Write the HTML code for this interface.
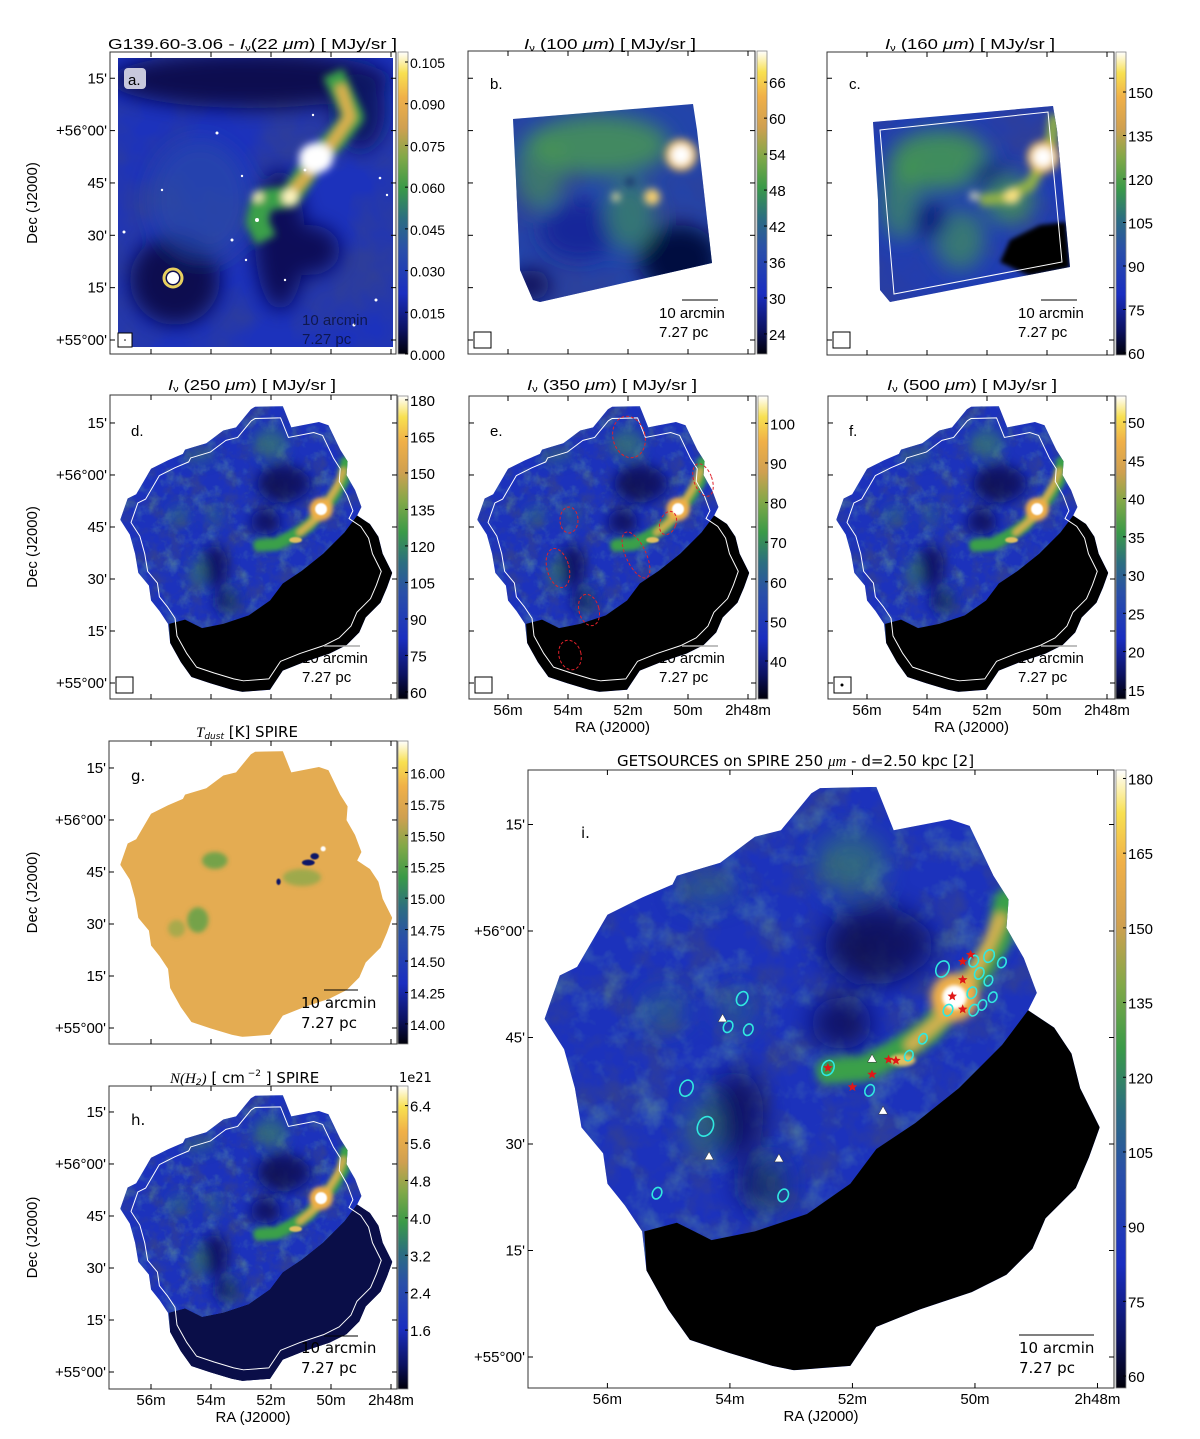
<!DOCTYPE html>
<html><head><meta charset="utf-8">
<style>
html,body{margin:0;padding:0;background:#fff;}
svg{display:block;}
text{font-family:"Liberation Sans","DejaVu Sans",sans-serif;fill:#000;}
.t{font-size:15px;}
.d{font-family:"DejaVu Sans","Liberation Sans",sans-serif;}
</style></head>
<body>
<svg id="fig" width="1200" height="1439" viewBox="0 0 1200 1439" xmlns="http://www.w3.org/2000/svg">
<defs>
  <linearGradient id="cmap" x1="0" y1="1" x2="0" y2="0">
    <stop offset="0" stop-color="#00000a"/>
    <stop offset="0.08" stop-color="#0c1260"/>
    <stop offset="0.2" stop-color="#1a2ec0"/>
    <stop offset="0.35" stop-color="#2a50a8"/>
    <stop offset="0.45" stop-color="#2c6e80"/>
    <stop offset="0.55" stop-color="#3a9a48"/>
    <stop offset="0.65" stop-color="#80a848"/>
    <stop offset="0.75" stop-color="#d0a050"/>
    <stop offset="0.85" stop-color="#f0b048"/>
    <stop offset="0.93" stop-color="#f8e050"/>
    <stop offset="1" stop-color="#ffffff"/>
  </linearGradient>
  <filter id="b30" x="-50%" y="-50%" width="200%" height="200%"><feGaussianBlur stdDeviation="30"/></filter>
  <filter id="b20" x="-50%" y="-50%" width="200%" height="200%"><feGaussianBlur stdDeviation="20"/></filter>
  <filter id="b10" x="-50%" y="-50%" width="200%" height="200%"><feGaussianBlur stdDeviation="10"/></filter>
  <filter id="b4" x="-50%" y="-50%" width="200%" height="200%"><feGaussianBlur stdDeviation="4"/></filter>
  <filter id="b2" x="-50%" y="-50%" width="200%" height="200%"><feGaussianBlur stdDeviation="2"/></filter>
  <filter id="tex" x="0" y="0" width="100%" height="100%">
    <feTurbulence type="fractalNoise" baseFrequency="0.012" numOctaves="4" seed="3"/>
    <feColorMatrix type="matrix" values="0 0 0 0 0.03  0 0 0 0 0.05  0 0 0 0 0.3  2.2 0 0 0 -0.95"/>
  </filter>
  <filter id="texG" x="0" y="0" width="100%" height="100%">
    <feTurbulence type="fractalNoise" baseFrequency="0.015" numOctaves="4" seed="8"/>
    <feColorMatrix type="matrix" values="0 0 0 0 0.2  0 0 0 0 0.6  0 0 0 0 0.3  0 2.2 0 0 -1.05"/>
  </filter>
  <path id="foot" d="M830,88 L960,85 L1000,185 L1130,160 L1175,175 L1230,290 L1265,345 L1260,410 L1300,480 L1330,560 L1310,600 L1370,640 L1410,700 L1430,780 L1475,870 L1450,940 L1420,1010 L1350,1080 L1320,1150 L1260,1210 L1180,1250 L1060,1290 L960,1330 L900,1420 L770,1430 L720,1420 L620,1390 L530,1360 L480,1290 L430,1200 L420,1110 L380,1050 L340,1000 L330,930 L280,870 L265,780 L240,690 L195,620 L230,520 L270,500 L340,380 L420,340 L490,310 L500,290 L600,260 L680,200 L740,185 L810,100 Z"/>
  <clipPath id="footClip"><use href="#foot"/></clipPath>
  <path id="blackReg" d="M1310,600 L1370,640 L1410,700 L1430,780 L1475,870 L1450,940 L1420,1010 L1350,1080 L1320,1150 L1260,1210 L1180,1250 L1060,1290 L960,1330 L900,1420 L770,1430 L720,1420 L620,1390 L530,1360 L480,1290 L430,1200 L425,1110 L500,1090 L580,1130 L680,1110 L800,1070 L900,1000 L960,920 L1050,860 L1150,780 L1250,680 Z"/>
  <g id="cloud">
    <g clip-path="url(#footClip)">
      <rect x="0" y="0" width="1600" height="1600" fill="#1c32bc"/>
      <rect x="0" y="0" width="1600" height="1600" filter="url(#tex)"/>
      <rect x="0" y="0" width="1600" height="1600" filter="url(#texG)" opacity="0.35"/>
      <g filter="url(#b30)" opacity="0.85">
        <ellipse cx="960" cy="450" rx="120" ry="90" fill="#080d50"/>
        <ellipse cx="880" cy="630" rx="70" ry="60" fill="#0a1058"/>
        <ellipse cx="640" cy="840" rx="60" ry="100" fill="#0a1058"/>
        <ellipse cx="700" cy="1000" rx="60" ry="60" fill="#0a1058"/>
        <ellipse cx="1030" cy="450" rx="60" ry="60" fill="#0a1058"/>
        <ellipse cx="900" cy="260" rx="80" ry="70" fill="#3a7e6a" opacity="0.8"/>
        <ellipse cx="570" cy="320" rx="70" ry="35" fill="#2f6a80" opacity="0.8"/>
        <ellipse cx="470" cy="600" rx="50" ry="45" fill="#2f6a80" opacity="0.8"/>
        <ellipse cx="560" cy="870" rx="35" ry="70" fill="#3a7e6a" opacity="0.8"/>
        <ellipse cx="640" cy="600" rx="40" ry="50" fill="#2f6a80" opacity="0.7"/>
        <ellipse cx="720" cy="1000" rx="25" ry="70" fill="#2f6a80" opacity="0.6"/>
      </g>
      <use href="#blackReg" fill="#000"/>
      <g filter="url(#b10)">
        <polyline points="1260,350 1240,440 1190,520 1140,580 1080,650 1000,700 930,735 850,740" fill="none" stroke="#3aa048" stroke-width="60" stroke-linecap="round"/>
        <polyline points="1245,390 1210,470 1160,550 1110,620 1040,680" fill="none" stroke="#d0b050" stroke-width="30" stroke-linecap="round"/>
        <circle cx="1140" cy="570" r="55" fill="#f0b048"/>
      </g>
      <g filter="url(#b4)">
        <circle cx="1140" cy="570" r="28" fill="#ffffff"/>
        <ellipse cx="1020" cy="715" rx="30" ry="14" fill="#e0c060"/>
      </g>
    </g>
  </g>
  <g id="cloudT">
    <g clip-path="url(#footClip)">
      <rect x="0" y="0" width="1600" height="1600" fill="#e4ac52"/>
      <g filter="url(#b10)">
        <ellipse cx="640" cy="600" rx="60" ry="40" fill="#58a048" opacity="0.8"/>
        <ellipse cx="560" cy="880" rx="50" ry="60" fill="#58a048" opacity="0.8"/>
        <ellipse cx="1050" cy="680" rx="90" ry="40" fill="#80a848" opacity="0.7"/>
        <ellipse cx="460" cy="920" rx="40" ry="40" fill="#80a848" opacity="0.6"/>
      </g>
      <g filter="url(#b2)">
        <ellipse cx="1110" cy="580" rx="20" ry="15" fill="#0a1468"/>
        <ellipse cx="1080" cy="610" rx="30" ry="14" fill="#0a1468"/>
        <ellipse cx="940" cy="700" rx="10" ry="15" fill="#0a1468"/>
        <circle cx="1150" cy="545" r="12" fill="#ffffff"/>
      </g>
    </g>
  </g>
  <use id="pacs" href="#foot" transform="translate(830,780) scale(0.92) translate(-830,-780)" fill="none" stroke="#fff" stroke-width="5" stroke-linejoin="round"/>
</defs>
<rect width="1200" height="1439" fill="#fff"/>

<!-- ===== Panel a ===== -->
<g>
  <clipPath id="clipA"><rect x="118" y="58" width="275" height="289"/></clipPath>
  <g clip-path="url(#clipA)">
    <rect x="118" y="58" width="275" height="289" fill="#1c32bc"/>
    <rect x="118" y="58" width="275" height="289" filter="url(#tex)"/>
    <g filter="url(#b10)">
      <ellipse cx="250" cy="80" rx="140" ry="28" fill="#080d50"/>
      <ellipse cx="280" cy="240" rx="25" ry="70" fill="#0a1058"/>
      <ellipse cx="175" cy="280" rx="45" ry="45" fill="#080d50"/>
      <ellipse cx="310" cy="250" rx="30" ry="25" fill="#0a1058"/>
      <ellipse cx="360" cy="110" rx="25" ry="40" fill="#0c1464"/>
      <ellipse cx="200" cy="200" rx="50" ry="60" fill="#2a48a8" opacity="0.7"/>
    </g>
    <g filter="url(#b4)">
      <polyline points="333,73 353,117 335,140 317,157 290,197 262,200 257,222 266,240" fill="none" stroke="#3aa048" stroke-width="22" stroke-linejoin="round"/>
      <polyline points="340,85 350,117 320,160 290,195" fill="none" stroke="#e0b050" stroke-width="10"/>
      <ellipse cx="316" cy="158" rx="17" ry="15" fill="#ffffff"/>
      <circle cx="290" cy="197" r="8" fill="#fff4c0"/>
      <circle cx="258" cy="197" r="5" fill="#fff4c0"/>
    </g>
    <circle cx="173" cy="278" r="6" fill="#fff"/>
    <circle cx="173" cy="278" r="9" fill="none" stroke="#e8d060" stroke-width="3"/>
    <g fill="#fff">
      <circle cx="217" cy="133" r="1.5"/><circle cx="242" cy="176" r="1.2"/><circle cx="257" cy="220" r="2"/><circle cx="232" cy="240" r="1.5"/><circle cx="246" cy="260" r="1.2"/><circle cx="380" cy="178" r="1.3"/><circle cx="387" cy="195" r="1.2"/><circle cx="376" cy="300" r="1.5"/><circle cx="124" cy="232" r="1.5"/><circle cx="162" cy="190" r="1.2"/><circle cx="285" cy="280" r="1.2"/><circle cx="354" cy="325" r="1.5"/><circle cx="313" cy="115" r="1.2"/><circle cx="305" cy="170" r="1.4"/>
    </g>
  </g>
  <rect x="110" y="52" width="286" height="302" fill="none" stroke="#333" stroke-width="1"/>
  <rect x="124" y="68" width="22" height="21" rx="4" fill="#c8c8dc"/>
  <text x="128" y="85" class="t">a.</text>
  <text x="302" y="325" class="t" fill="#000" opacity="0.55">10 arcmin</text>
  <text x="302" y="344" class="t" opacity="0.55">7.27 pc</text>
  <rect x="118" y="333" width="14" height="14" fill="#fff" stroke="#000"/>
  <circle cx="125" cy="340" r="0.8" fill="#000"/>
  <text x="108" y="49" font-size="15" textLength="289" lengthAdjust="spacingAndGlyphs">G139.60-3.06 - <tspan font-style="italic">I</tspan><tspan font-size="9" dy="2">ν</tspan><tspan dy="-2">(22 </tspan><tspan font-style="italic">μm</tspan>)  [ MJy/sr ]</text>
</g>

<!-- ===== Panel b ===== -->
<g>
  <rect x="468" y="51" width="287" height="303" fill="#fff" stroke="#333"/>
  <clipPath id="clipB"><polygon points="513,119 693,104 697,130 712,263 540,302 533,300 520,270 516,180"/></clipPath>
  <g clip-path="url(#clipB)">
    <rect x="500" y="95" width="220" height="215" fill="#2244aa"/>
    <rect x="500" y="95" width="220" height="215" filter="url(#tex)"/>
    <g filter="url(#b10)">
      <ellipse cx="600" cy="145" rx="70" ry="30" fill="#4a9a50" opacity="0.8"/>
      <ellipse cx="540" cy="170" rx="25" ry="40" fill="#4a9a50" opacity="0.6"/>
      <ellipse cx="680" cy="260" rx="40" ry="35" fill="#060a40"/>
      <ellipse cx="580" cy="230" rx="40" ry="30" fill="#18289a"/>
      <ellipse cx="630" cy="215" rx="25" ry="35" fill="#3a8a60" opacity="0.7"/>
      <ellipse cx="530" cy="285" rx="20" ry="15" fill="#0a1058"/>
    </g>
    <g filter="url(#b4)">
      <circle cx="681" cy="155" r="16" fill="#f0c050"/>
      <circle cx="681" cy="155" r="10" fill="#fff"/>
      <circle cx="652" cy="197" r="8" fill="#f8d070"/>
      <circle cx="616" cy="197" r="4" fill="#fff0a0"/>
      <circle cx="630" cy="182" r="3" fill="#101050"/>
    </g>
  </g>
  <text x="490" y="89" class="t">b.</text>
  <line x1="682" y1="300" x2="718" y2="300" stroke="#000"/>
  <text x="659" y="318" class="t">10 arcmin</text>
  <text x="659" y="337" class="t">7.27 pc</text>
  <rect x="474" y="332" width="17" height="16" fill="#fff" stroke="#000"/>
  <text x="524" y="49" font-size="15" textLength="172" lengthAdjust="spacingAndGlyphs"><tspan font-style="italic">I</tspan><tspan font-size="9" dy="2">ν</tspan><tspan dy="-2"> (100 </tspan><tspan font-style="italic">μm</tspan>) [ MJy/sr ]</text>
</g>

<!-- ===== Panel c ===== -->
<g>
  <rect x="827" y="52" width="287" height="303" fill="#fff" stroke="#333"/>
  <clipPath id="clipC"><polygon points="873,122 1053,106 1057,130 1070,267 890,302 880,290 878,200"/></clipPath>
  <g clip-path="url(#clipC)">
    <rect x="860" y="95" width="220" height="215" fill="#1f3cb4"/>
    <rect x="860" y="95" width="220" height="215" filter="url(#tex)"/>
    <g filter="url(#b10)">
      <ellipse cx="940" cy="160" rx="50" ry="30" fill="#48a048" opacity="0.8"/>
      <ellipse cx="900" cy="200" rx="20" ry="40" fill="#48a048" opacity="0.6"/>
      <ellipse cx="960" cy="240" rx="25" ry="30" fill="#48a048" opacity="0.6"/>
      <ellipse cx="930" cy="220" rx="20" ry="20" fill="#101a80"/>
      <ellipse cx="990" cy="175" rx="20" ry="15" fill="#101a80"/>
      <ellipse cx="1010" cy="200" rx="25" ry="25" fill="#48a048" opacity="0.7"/>
    </g>
    <polygon points="1000,262 1010,240 1040,225 1066,222 1070,268 1030,276" fill="#000" filter="url(#b2)"/>
    <g filter="url(#b4)">
      <polyline points="1055,115 1050,150 1030,185 1005,198 980,200" fill="none" stroke="#90b048" stroke-width="12"/>
      <circle cx="1043" cy="157" r="16" fill="#f0c050"/>
      <circle cx="1043" cy="157" r="10" fill="#fff"/>
      <circle cx="1012" cy="196" r="8" fill="#f8e080"/>
      <circle cx="974" cy="196" r="4" fill="#fff8c0"/>
    </g>
  </g>
  <polygon points="880,130 1048,112 1062,262 894,294" fill="none" stroke="#fff" stroke-width="1"/>
  <text x="849" y="89" class="t">c.</text>
  <line x1="1041" y1="300" x2="1077" y2="300" stroke="#000"/>
  <text x="1018" y="318" class="t">10 arcmin</text>
  <text x="1018" y="337" class="t">7.27 pc</text>
  <rect x="833" y="332" width="17" height="16" fill="#fff" stroke="#000"/>
  <text x="885" y="49" font-size="15" textLength="170" lengthAdjust="spacingAndGlyphs"><tspan font-style="italic">I</tspan><tspan font-size="9" dy="2">ν</tspan><tspan dy="-2"> (160 </tspan><tspan font-style="italic">μm</tspan>) [ MJy/sr ]</text>
</g>

<!-- ===== Row 2: d e f ===== -->
<g>
  <rect x="110" y="395" width="287" height="304" fill="#fff" stroke="#333"/>
  <use href="#cloud" transform="translate(78.8,388) scale(0.2125)"/>
  <use href="#pacs" transform="translate(78.8,388) scale(0.2125)"/>
  <text x="131" y="436" class="t">d.</text>
  <line x1="324" y1="646" x2="360" y2="646" stroke="#aaa" stroke-width="1.5"/>
  <text x="302" y="663" class="t">10 arcmin</text>
  <text x="302" y="682" class="t">7.27 pc</text>
  <rect x="116" y="677" width="17" height="16" fill="#fff" stroke="#000"/>
  <text x="168" y="390" font-size="15" textLength="168" lengthAdjust="spacingAndGlyphs"><tspan font-style="italic">I</tspan><tspan font-size="9" dy="2">ν</tspan><tspan dy="-2"> (250 </tspan><tspan font-style="italic">μm</tspan>) [ MJy/sr ]</text>
</g>
<g>
  <rect x="469" y="396" width="287" height="303" fill="#fff" stroke="#333"/>
  <use href="#cloud" transform="translate(435.8,388) scale(0.2125)"/>
  <use href="#pacs" transform="translate(435.8,388) scale(0.2125)"/>
  <g fill="none" stroke="#e0202a" stroke-width="1" stroke-dasharray="3,2">
    <ellipse cx="629" cy="437" rx="16" ry="21" transform="rotate(-15 629 437)"/>
    <ellipse cx="703" cy="480" rx="9" ry="17" transform="rotate(-20 703 480)"/>
    <ellipse cx="569" cy="520" rx="9" ry="13"/>
    <ellipse cx="668" cy="523" rx="8" ry="12" transform="rotate(20 668 523)"/>
    <ellipse cx="636" cy="555" rx="10" ry="25" transform="rotate(-25 636 555)"/>
    <ellipse cx="558" cy="568" rx="11" ry="20" transform="rotate(-15 558 568)"/>
    <ellipse cx="589" cy="610" rx="10" ry="16" transform="rotate(-15 589 610)"/>
    <ellipse cx="570" cy="655" rx="11" ry="15" transform="rotate(-15 570 655)"/>
  </g>
  <text x="490" y="436" class="t">e.</text>
  <line x1="682" y1="646" x2="718" y2="646" stroke="#aaa" stroke-width="1.5"/>
  <text x="659" y="663" class="t">10 arcmin</text>
  <text x="659" y="682" class="t">7.27 pc</text>
  <rect x="475" y="677" width="17" height="16" fill="#fff" stroke="#000"/>
  <text x="527" y="390" font-size="15" textLength="170" lengthAdjust="spacingAndGlyphs"><tspan font-style="italic">I</tspan><tspan font-size="9" dy="2">ν</tspan><tspan dy="-2"> (350 </tspan><tspan font-style="italic">μm</tspan>) [ MJy/sr ]</text>
</g>
<g>
  <rect x="828" y="396" width="287" height="303" fill="#fff" stroke="#333"/>
  <use href="#cloud" transform="translate(794.8,388) scale(0.2125)"/>
  <use href="#pacs" transform="translate(794.8,388) scale(0.2125)"/>
  <text x="849" y="436" class="t">f.</text>
  <line x1="1041" y1="646" x2="1077" y2="646" stroke="#aaa" stroke-width="1.5"/>
  <text x="1018" y="663" class="t">10 arcmin</text>
  <text x="1018" y="682" class="t">7.27 pc</text>
  <rect x="834" y="677" width="17" height="16" fill="#fff" stroke="#000"/>
  <circle cx="842" cy="685" r="1.5" fill="#000"/>
  <text x="887" y="390" font-size="15" textLength="170" lengthAdjust="spacingAndGlyphs"><tspan font-style="italic">I</tspan><tspan font-size="9" dy="2">ν</tspan><tspan dy="-2"> (500 </tspan><tspan font-style="italic">μm</tspan>) [ MJy/sr ]</text>
</g>

<!-- ===== g ===== -->
<g>
  <rect x="109" y="741" width="288" height="303" fill="#fff" stroke="#333"/>
  <use href="#cloudT" transform="translate(78.8,733) scale(0.2125)"/>
  <text x="131" y="781" class="t d">g.</text>
  <line x1="324" y1="990" x2="358" y2="990" stroke="#000"/>
  <text x="301" y="1008" class="t d">10 arcmin</text>
  <text x="301" y="1028" class="t d">7.27 pc</text>
  <text x="196" y="737" font-size="15" class="d"><tspan font-style="italic" font-family="Liberation Serif">T</tspan><tspan font-size="9" dy="2" font-style="italic">dust</tspan><tspan dy="-2"> [K] SPIRE</tspan></text>
</g>

<!-- ===== h ===== -->
<g>
  <rect x="109" y="1086" width="288" height="303" fill="#fff" stroke="#333"/>
  <use href="#cloud" transform="translate(78.8,1077) scale(0.2125)"/>
  <use href="#blackReg" transform="translate(78.8,1077) scale(0.2125)" fill="#0a0e48"/>
  <use href="#pacs" transform="translate(78.8,1077) scale(0.2125)"/>
  <text x="131" y="1125" class="t d">h.</text>
  <line x1="324" y1="1336" x2="358" y2="1336" stroke="#000"/>
  <text x="301" y="1353" class="t d">10 arcmin</text>
  <text x="301" y="1373" class="t d">7.27 pc</text>
  <text x="170" y="1083" font-size="15" class="d"><tspan font-style="italic" font-family="Liberation Serif">N(H</tspan><tspan font-size="9" dy="2" font-style="italic">2</tspan><tspan dy="-2" font-style="italic" font-family="Liberation Serif">)</tspan> [ cm<tspan font-size="9" dy="-7"> −2</tspan><tspan dy="7"> ] SPIRE</tspan></text>
  <text x="399" y="1082" font-size="13" class="d">1e21</text>
</g>

<!-- ===== i ===== -->
<g>
  <rect x="528" y="770" width="586" height="618" fill="#fff" stroke="#333"/>
  <use href="#cloud" transform="translate(460,750) scale(0.4337)"/>
  <g id="srcLayer"></g>
  <text x="581" y="838" class="t d">i.</text>
  <line x1="1019" y1="1335" x2="1094" y2="1335" stroke="#000"/>
  <text x="1019" y="1353" class="t d">10 arcmin</text>
  <text x="1019" y="1373" class="t d">7.27 pc</text>
  <text x="617" y="766" font-size="15" class="d">GETSOURCES on SPIRE 250 <tspan font-style="italic" font-family="Liberation Serif">μm</tspan>  -  d=2.50 kpc [2]</text>
</g>

<g id="axisLayer"></g>
</svg>
<script>
// ---- data ----
var decTickVals = [75, 60, 45, 30, 15, 0];
var decTickLabels = ["15'", "+56°00'", "45'", "30'", "15'", "+55°00'"];
var raTickVals = [56, 54, 52, 50, 48];
var raTickLabels = ["56m", "54m", "52m", "50m", "2h48m"];

var cbarTicksA = [0.000, 0.015, 0.030, 0.045, 0.060, 0.075, 0.090, 0.105];
var cbarTicksB = [24, 30, 36, 42, 48, 54, 60, 66];
var cbarTicksC = [60, 75, 90, 105, 120, 135, 150];
var cbarTicksD = [60, 75, 90, 105, 120, 135, 150, 165, 180];
var cbarTicksE = [40, 50, 60, 70, 80, 90, 100];
var cbarTicksF = [15, 20, 25, 30, 35, 40, 45, 50];
var cbarTicksG = [14.00, 14.25, 14.50, 14.75, 15.00, 15.25, 15.50, 15.75, 16.00];
var cbarTicksH = [1.6, 2.4, 3.2, 4.0, 4.8, 5.6, 6.4];
var cbarTicksI = [60, 75, 90, 105, 120, 135, 150, 165, 180];
var cbarRangeA = [0.0, 0.1086];
var cbarRangeB = [20.65, 71.2];
var cbarRangeC = [59.3, 163.8];
var cbarRangeD = [57.1, 181.6];
var cbarRangeE = [30.4, 106.9];
var cbarRangeF = [13.8, 53.4];
var cbarRangeG = [13.84, 16.25];
var cbarRangeH = [0.34, 6.82];
var cbarRangeI = [57.6, 181.7];

// sources on panel i: RA (minutes of 2h), Dec (arcmin above +55°)
var starRA  = [50.20, 50.07, 50.20, 50.37, 50.20, 52.40, 51.68, 52.00, 51.29, 51.41];
var starDec = [55.69, 56.66, 53.13, 50.80, 48.97, 40.72, 39.80, 38.03, 41.76, 41.89];
var triRA  = [54.12, 51.68, 51.50, 54.34, 53.20];
var triDec = [47.62, 41.94, 34.62, 28.20, 27.90];
var ellRA  = [53.80, 54.03, 53.70, 52.40, 54.71, 54.40, 55.19, 53.13, 51.72, 50.53, 50.02, 49.93, 49.77, 49.56, 49.78, 49.71, 49.88, 50.02, 50.44, 50.05, 50.85, 51.08];
var ellDec = [50.49, 46.52, 46.10, 40.72, 37.86, 32.48, 23.07, 22.76, 37.55, 54.65, 55.75, 54.04, 56.48, 55.56, 53.00, 50.68, 49.58, 48.85, 48.85, 51.30, 44.82, 42.44];
var ellSize = [1.2, 1.0, 1.0, 1.3, 1.4, 1.7, 1.0, 1.1, 1.0, 1.4, 1.0, 1.0, 1.1, 0.9, 0.9, 0.9, 0.9, 1.0, 1.0, 1.0, 0.9, 0.9];

var NS = "http://www.w3.org/2000/svg";
var axisLayer = document.getElementById('axisLayer');
var srcLayer = document.getElementById('srcLayer');
function mk(tag, attrs, parent) {
  var e = document.createElementNS(NS, tag);
  for (var k in attrs) e.setAttribute(k, attrs[k]);
  parent.appendChild(e);
  return e;
}

var panels = [
  {id:'a', x:110, y:52, w:286, h:302, x56:151, dx:30, y0:340, dy:3.49, decLab:true, raLab:false, font:'Liberation Sans'},
  {id:'b', x:468, y:51, w:287, h:303, x56:508, dx:30, y0:340, dy:3.49, decLab:false, raLab:false},
  {id:'c', x:827, y:52, w:287, h:303, x56:867, dx:30, y0:340, dy:3.49, decLab:false, raLab:false},
  {id:'d', x:110, y:395, w:287, h:304, x56:151, dx:30, y0:683, dy:3.467, decLab:true, raLab:false, font:'Liberation Sans'},
  {id:'e', x:469, y:396, w:287, h:303, x56:508, dx:30, y0:683, dy:3.467, decLab:false, raLab:true, font:'Liberation Sans'},
  {id:'f', x:828, y:396, w:287, h:303, x56:867, dx:30, y0:683, dy:3.467, decLab:false, raLab:true, font:'Liberation Sans'},
  {id:'g', x:109, y:741, w:288, h:303, x56:151, dx:30, y0:1028, dy:3.467, decLab:true, raLab:false, font:'DejaVu Sans'},
  {id:'h', x:109, y:1086, w:288, h:303, x56:151, dx:30, y0:1372, dy:3.467, decLab:true, raLab:true, font:'DejaVu Sans'},
  {id:'i', x:528, y:770, w:586, h:618, x56:607.4, dx:61.26, y0:1357, dy:7.1, decLab:true, raLab:true, font:'DejaVu Sans'}
];
function xPix(p, ra) { return p.x56 + (56 - ra) * p.dx; }
function yPix(p, dec) { return p.y0 - dec * p.dy; }

panels.forEach(function(p) {
  var g = mk('g', {}, axisLayer);
  
  
  decTickVals.forEach(function(v, i) {
    var y = yPix(p, v);
    if (y < p.y || y > p.y + p.h) return;
    mk('line', {x1:p.x, x2:p.x + 5, y1:y, y2:y, stroke:'#000'}, g);
    mk('line', {x1:p.x + p.w - 5, x2:p.x + p.w, y1:y, y2:y, stroke:'#000'}, g);
    if (p.decLab) {
      var t = mk('text', {x:p.x - 3, y:y + 5, 'text-anchor':'end', 'font-size':15, 'font-family':p.font}, g);
      
      
      t.textContent = decTickLabels[i];
    }
  });
  raTickVals.forEach(function(v, i) {
    var x = xPix(p, v);
    if (x < p.x || x > p.x + p.w + 1) return;
    mk('line', {x1:x, x2:x, y1:p.y + p.h - 5, y2:p.y + p.h, stroke:'#000'}, g);
    mk('line', {x1:x, x2:x, y1:p.y, y2:p.y + 5, stroke:'#000'}, g);
    if (p.raLab) {
      var t = mk('text', {x:x, y:p.y + p.h + 16, 'text-anchor':'middle', 'font-size':15, 'font-family':p.font}, g);
      
      
      t.textContent = raTickLabels[i];
    }
  });
  if (p.raLab) {
    var t = mk('text', {x:p.x + p.w / 2, y:p.y + p.h + 33, 'text-anchor':'middle', 'font-size':15, 'font-family':p.font}, g);
    
    
    t.textContent = 'RA (J2000)';
  }
  if (p.decLab && p.id !== 'i') {
    var cy = p.y + p.h / 2;
    var t = mk('text', {x:37, y:cy, 'text-anchor':'middle', 'font-size':15, 'font-family':p.font, transform:'rotate(-90 37 ' + cy + ')'}, g);
    
    
    t.textContent = 'Dec (J2000)';
  }
});

var cbars = [
  {id:'a', x:398, top:52, bot:354, ticks:cbarTicksA, range:cbarRangeA, dec:3, font:'Liberation Sans'},
  {id:'b', x:757, top:51, bot:354, ticks:cbarTicksB, range:cbarRangeB, dec:0, font:'Liberation Sans'},
  {id:'c', x:1116, top:52, bot:355, ticks:cbarTicksC, range:cbarRangeC, dec:0, font:'Liberation Sans'},
  {id:'d', x:398, top:396, bot:699, ticks:cbarTicksD, range:cbarRangeD, dec:0, font:'Liberation Sans'},
  {id:'e', x:758, top:396, bot:699, ticks:cbarTicksE, range:cbarRangeE, dec:0, font:'Liberation Sans'},
  {id:'f', x:1116, top:396, bot:699, ticks:cbarTicksF, range:cbarRangeF, dec:0, font:'Liberation Sans'},
  {id:'g', x:398, top:741, bot:1044, ticks:cbarTicksG, range:cbarRangeG, dec:2, font:'DejaVu Sans'},
  {id:'h', x:398, top:1086, bot:1389, ticks:cbarTicksH, range:cbarRangeH, dec:1, font:'DejaVu Sans'},
  {id:'i', x:1116, top:770, bot:1388, ticks:cbarTicksI, range:cbarRangeI, dec:0, font:'DejaVu Sans'}
];
cbars.forEach(function(c) {
  var g = mk('g', {}, axisLayer);
  
  
  var r = mk('rect', {x:c.x, y:c.top, width:10, height:c.bot - c.top, fill:'url(#cmap)', stroke:'#888', 'stroke-width':0.8}, g);
  
  
  c.ticks.forEach(function(v) {
    var y = c.bot - (v - c.range[0]) / (c.range[1] - c.range[0]) * (c.bot - c.top);
    mk('line', {x1:c.x + 7, x2:c.x + 10, y1:y, y2:y, stroke:'#000'}, g);
    var t = mk('text', {x:c.x + 12, y:y + 6, 'font-size':(c.dec >= 2 ? 14 : 15), 'font-family':c.font}, g);
    
    
    t.textContent = v.toFixed(c.dec);
  });
});

var pI = panels[8];
ellRA.forEach(function(ra, i) {
  var e = mk('ellipse', {cx:xPix(pI, ra), cy:yPix(pI, ellDec[i]), rx:4.5 * ellSize[i], ry:6 * ellSize[i], fill:'none', stroke:'#30e8e0', 'stroke-width':1.6, transform:'rotate(25 ' + xPix(pI, ra) + ' ' + yPix(pI, ellDec[i]) + ')'}, srcLayer);
  
  
});
triRA.forEach(function(ra, i) {
  var x = xPix(pI, ra), y = yPix(pI, triDec[i]);
  var t = mk('polygon', {points:(x) + ',' + (y - 5) + ' ' + (x - 4.5) + ',' + (y + 3) + ' ' + (x + 4.5) + ',' + (y + 3), fill:'#fff', stroke:'#333', 'stroke-width':0.5}, srcLayer);
  
  
});
starRA.forEach(function(ra, i) {
  var x = xPix(pI, ra), y = yPix(pI, starDec[i]);
  var pts = [];
  for (var k = 0; k < 10; k++) {
    var a = -Math.PI / 2 + k * Math.PI / 5, rr = (k % 2 === 0) ? 5 : 2.2;
    pts.push((x + rr * Math.cos(a)).toFixed(1) + ',' + (y + rr * Math.sin(a)).toFixed(1));
  }
  var s = mk('polygon', {points:pts.join(' '), fill:'#e01818'}, srcLayer);
  
  
});
</script>
</body></html>
